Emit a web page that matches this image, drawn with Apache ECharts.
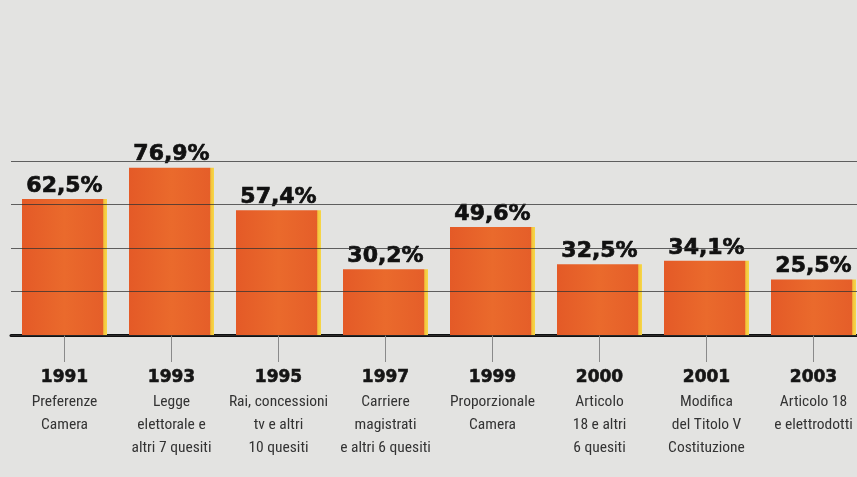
<!DOCTYPE html>
<html>
<head>
<meta charset="utf-8">
<script src="https://cdn.jsdelivr.net/npm/echarts@6/dist/echarts.min.js"></script>
<style>
html,body{margin:0;padding:0;background:#e3e3e1;overflow:hidden;width:857px;height:477px;}
#chart{width:867px;height:477px;}
</style>
</head>
<body>
<div id="chart"></div>
<script>
const years = ['1991','1993','1995','1997','1999','2000','2001','2003'];
const descriptions = [
  ['Preferenze','Camera'],
  ['Legge','elettorale e','altri 7 quesiti'],
  ['Rai, concessioni','tv e altri','10 quesiti'],
  ['Carriere','magistrati','e altri 6 quesiti'],
  ['Proporzionale','Camera'],
  ['Articolo','18 e altri','6 quesiti'],
  ['Modifica','del Titolo V','Costituzione'],
  ['Articolo 18','e elettrodotti']
];
const values = [62.5, 76.9, 57.4, 30.2, 49.6, 32.5, 34.1, 25.5];
const yTicks = [0, 20, 40, 60, 80];

const chart = echarts.init(document.getElementById('chart'));
const barColor = {
  type: 'linear', x: 0, y: 0, x2: 1, y2: 0,
  colorStops: [
    {offset: 0, color: '#e45a27'},
    {offset: 0.5, color: '#ea6a2c'},
    {offset: 0.955, color: '#e55e29'},
    {offset: 0.96, color: '#f3c23c'},
    {offset: 1, color: '#f6d848'}
  ]
};
chart.setOption({
  backgroundColor: '#e3e3e1',
  animation: false,
  grid: {left: 11, right: 0, top: 161, bottom: 142, containLabel: false, outerBoundsMode: 'none'},
  xAxis: {
    type: 'category',
    data: years,
    boundaryGap: true,
    axisLine: {show: true, lineStyle: {color: '#111', width: 3}},
    axisTick: {show: true, alignWithLabel: true, length: 27, lineStyle: {color: '#8a8a8a', width: 1}},
    axisLabel: {
      interval: 0,
      margin: 29,
      formatter: function (val, idx) {
        const lines = descriptions[idx].map(s => '{d|' + s + '}').join('\n');
        return '{y|' + val + '}\n' + lines;
      },
      rich: {
        y: {fontFamily: 'DejaVu Sans', fontWeight: 'bold', fontSize: 17, color: '#151515', lineHeight: 27, align: 'center', textBorderColor: '#151515', textBorderWidth: 0.6},
        d: {fontFamily: '"Liberation Sans Narrow", "Roboto Condensed", Roboto, sans-serif', fontSize: 15.5, color: '#333', lineHeight: 23, align: 'center'}
      }
    }
  },
  yAxis: {
    type: 'value',
    min: 0, max: yTicks[yTicks.length - 1], interval: 20,
    z: 5,
    axisLine: {show: false},
    axisTick: {show: false},
    axisLabel: {show: false},
    splitLine: {show: true, lineStyle: {color: 'rgba(50,50,50,0.75)', width: 1}}
  },
  series: [{
    type: 'bar',
    data: values,
    barWidth: 85,
    itemStyle: {color: barColor},
    label: {
      show: true,
      position: 'top',
      distance: 2,
      fontFamily: 'DejaVu Sans',
      fontWeight: 'bold',
      fontSize: 22,
      color: '#111',
      textBorderColor: '#111',
      textBorderWidth: 0.7,
      formatter: p => p.value.toFixed(1).replace('.', ',') + '%'
    }
  }]
});
</script>
</body>
</html>
